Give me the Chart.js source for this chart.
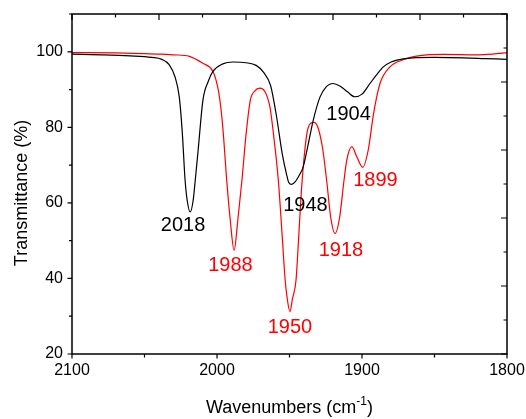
<!DOCTYPE html>
<html>
<head>
<meta charset="utf-8">
<script src="https://cdn.jsdelivr.net/npm/chart.js@4.4.0/dist/chart.umd.min.js"></script>
<style>
  html, body { margin: 0; padding: 0; background: #fff; }
  #wrap { width: 526px; height: 419px; }
</style>
</head>
<body>
<div id="wrap"><canvas id="irChart"></canvas></div>
<script>
// black spectrum (wavenumber, transmittance %)
const blackWn = [2100, 2080, 2060, 2045, 2038, 2033, 2029, 2026, 2024, 2022, 2020.5, 2018.5, 2016.5, 2015, 2013, 2009.7, 2006, 2002.8,
    1996, 1989, 1980, 1973, 1968, 1963, 1959, 1955, 1952, 1950.5, 1948.5, 1946, 1943, 1940.5, 1937, 1933.6, 1929, 1925,
    1920, 1915, 1910, 1905, 1900, 1894.5, 1890, 1885.3, 1880, 1876, 1865, 1850, 1830, 1815, 1800];
const blackT = [99.4, 99.2, 98.9, 98.5, 98.0, 96.6, 93.4, 88, 79, 66, 60.5, 57.6, 60.5, 66, 74, 87.2, 92.2, 94.8,
    96.8, 97.3, 97.1, 96.4, 94.6, 91, 83, 73, 67.5, 65.4, 64.9, 65.6, 67.5, 69.6, 75.7, 81.9, 88, 90.6,
    91.6, 90.9, 89.4, 88.1, 88.8, 91.6, 93.9, 96, 97.3, 97.8, 98.4, 98.5, 98.4, 98.2, 98.0];

// red spectrum
const redWn = [2100, 2070, 2050, 2039, 2030, 2019, 2010, 2002.8, 2000, 1998, 1996, 1993.3, 1991, 1988.2, 1985.5, 1982.8, 1980, 1977,
    1974, 1970.5, 1967, 1963.5, 1961, 1957.7, 1955, 1953, 1951.5, 1949.7, 1948, 1945.5, 1943.5, 1941.6, 1938, 1935.5, 1933, 1930,
    1927, 1924.4, 1921.5, 1918.6, 1915.5, 1912.4, 1910.5, 1907, 1903.6, 1899.5, 1895.7, 1892, 1887.6, 1880.7, 1871.7, 1860,
    1844, 1821, 1810, 1800];
const redT = [99.8, 99.7, 99.5, 99.4, 99.2, 98.8, 97, 94.8, 91.5, 87.2, 80, 66, 56, 47.5, 56, 66, 78, 87.2,
    89.6, 90.4, 89.5, 85.4, 78, 66, 51, 39.6, 34.5, 31.2, 34.5, 39.6, 52, 64.3, 78.4, 81, 81.3, 79.5,
    74, 66, 56, 51.9, 56, 66, 71.3, 74.9, 72.2, 69.4, 74, 83.7, 91.6, 96, 97.9, 99,
    99.3, 99.2, 99.4, 99.8];

const xTicks = [2100, 2000, 1900, 1800];
const yTicks = [20, 40, 60, 80, 100];

// peak labels, placed in data units
const peakNames = ['2018', '1948', '1904', '1988', '1950', '1918', '1899'];
const peakColors = ['#000000', '#000000', '#000000', '#ff0000', '#ff0000', '#ff0000', '#ff0000'];
const peakAtX = [2023.4, 1939, 1909.3, 1990.7, 1949.7, 1914.5, 1890.7];
const peakAtY = [54.1, 59.4, 83.5, 43.5, 27.1, 47.5, 66];

const FONT = '"Liberation Sans", Arial, sans-serif';

function toPoints(xs, ys) {
    return xs.map((v, i) => ({x: v, y: ys[i]}));
}

function fixBox(scale, size) {
    if (scale.isHorizontal()) scale.height = size; else scale.width = size;
    scale.paddingLeft = 0;
    scale.paddingRight = 0;
    scale.paddingTop = 0;
    scale.paddingBottom = 0;
}

// frame, Origin-style ticks on all four sides, peak labels and axis titles
const decorations = {
    id: 'decorations',
    afterDatasetsDraw(chart) {
        const {ctx, chartArea: a, scales: {x, y}} = chart;
        ctx.save();
        ctx.strokeStyle = '#000';
        ctx.lineWidth = 1.5;
        ctx.strokeRect(a.left, a.top, a.right - a.left, a.bottom - a.top);

        ctx.lineWidth = 1.2;
        ctx.beginPath();
        // bottom, outward, every 50
        for (let v = 1800; v <= 2100; v += 50) {
            const px = x.getPixelForValue(v);
            ctx.moveTo(px, a.bottom);
            ctx.lineTo(px, a.bottom + (v % 100 === 0 ? 4.5 : 3.5));
        }
        // left, outward, every 10
        for (let v = 20; v <= 110; v += 10) {
            const py = y.getPixelForValue(v);
            ctx.moveTo(a.left, py);
            ctx.lineTo(a.left - (v % 20 === 0 ? 4.5 : 3), py);
        }
        // top, inward, every 30
        for (let v = 1800; v <= 2100; v += 30) {
            const px = x.getPixelForValue(v);
            ctx.moveTo(px, a.top);
            ctx.lineTo(px, a.top + ((2100 - v) % 60 === 0 ? 6 : 3.5));
        }
        // right, inward, every 9
        for (let v = 20; v <= 110; v += 9) {
            const py = y.getPixelForValue(v);
            ctx.moveTo(a.right, py);
            ctx.lineTo(a.right - ((v - 20) % 18 === 0 ? 6 : 3.5), py);
        }
        ctx.stroke();

        ctx.font = '20px ' + FONT;
        ctx.textAlign = 'center';
        ctx.textBaseline = 'middle';
        peakNames.forEach((name, i) => {
            ctx.fillStyle = peakColors[i];
            ctx.fillText(name, x.getPixelForValue(peakAtX[i]), y.getPixelForValue(peakAtY[i]));
        });

        // x title with superscript
        ctx.fillStyle = '#000';
        ctx.textBaseline = 'alphabetic';
        ctx.textAlign = 'left';
        const main = 'Wavenumbers (cm';
        ctx.font = '18px ' + FONT;
        const w1 = ctx.measureText(main).width;
        const w3 = ctx.measureText(')').width;
        ctx.font = '12px ' + FONT;
        const w2 = ctx.measureText('-1').width;
        const cx = (a.left + a.right) / 2;
        let tx = cx - (w1 + w2 + w3) / 2;
        const base = 413;
        ctx.font = '18px ' + FONT;
        ctx.fillText(main, tx, base);
        tx += w1;
        ctx.font = '12px ' + FONT;
        ctx.fillText('-1', tx, base - 8);
        tx += w2;
        ctx.font = '18px ' + FONT;
        ctx.fillText(')', tx, base);

        // y title
        ctx.translate(27, (a.top + a.bottom) / 2 + 9);
        ctx.rotate(-Math.PI / 2);
        ctx.textAlign = 'center';
        ctx.fillText('Transmittance (%)', 0, 0);
        ctx.restore();
    }
};

new Chart(document.getElementById('irChart'), {
    type: 'line',
    data: {
        datasets: [{
            label: 'black',
            data: toPoints(blackWn, blackT),
            borderColor: '#000000',
            borderWidth: 1.2,
            pointRadius: 0,
            cubicInterpolationMode: 'monotone',
            fill: false
        }, {
            label: 'red',
            data: toPoints(redWn, redT),
            borderColor: '#ff0000',
            borderWidth: 1.2,
            pointRadius: 0,
            cubicInterpolationMode: 'monotone',
            fill: false
        }]
    },
    options: {
        responsive: true,
        maintainAspectRatio: false,
        animation: false,
        devicePixelRatio: 1,
        layout: {
            padding: {top: 14, right: 19, left: 0, bottom: 0}
        },
        scales: {
            x: {
                type: 'linear',
                min: 1800,
                max: 2100,
                reverse: true,
                afterBuildTicks: scale => { scale.ticks = xTicks.map(v => ({value: v})); },
                afterFit: scale => fixBox(scale, 65),
                grid: {display: false, drawTicks: false},
                border: {display: false},
                ticks: {
                    color: '#000',
                    font: {family: FONT, size: 16},
                    padding: 7,
                    maxRotation: 0,
                    autoSkip: false,
                    callback: v => String(v)
                }
            },
            y: {
                min: 20,
                max: 110,
                afterBuildTicks: scale => { scale.ticks = yTicks.map(v => ({value: v})); },
                afterFit: scale => fixBox(scale, 72),
                grid: {display: false, drawTicks: false},
                border: {display: false},
                ticks: {
                    color: '#000',
                    font: {family: FONT, size: 16},
                    padding: 9,
                    callback: v => String(v)
                }
            }
        },
        plugins: {
            legend: {display: false},
            tooltip: {enabled: false}
        }
    },
    plugins: [decorations]
});
</script>
</body>
</html>
